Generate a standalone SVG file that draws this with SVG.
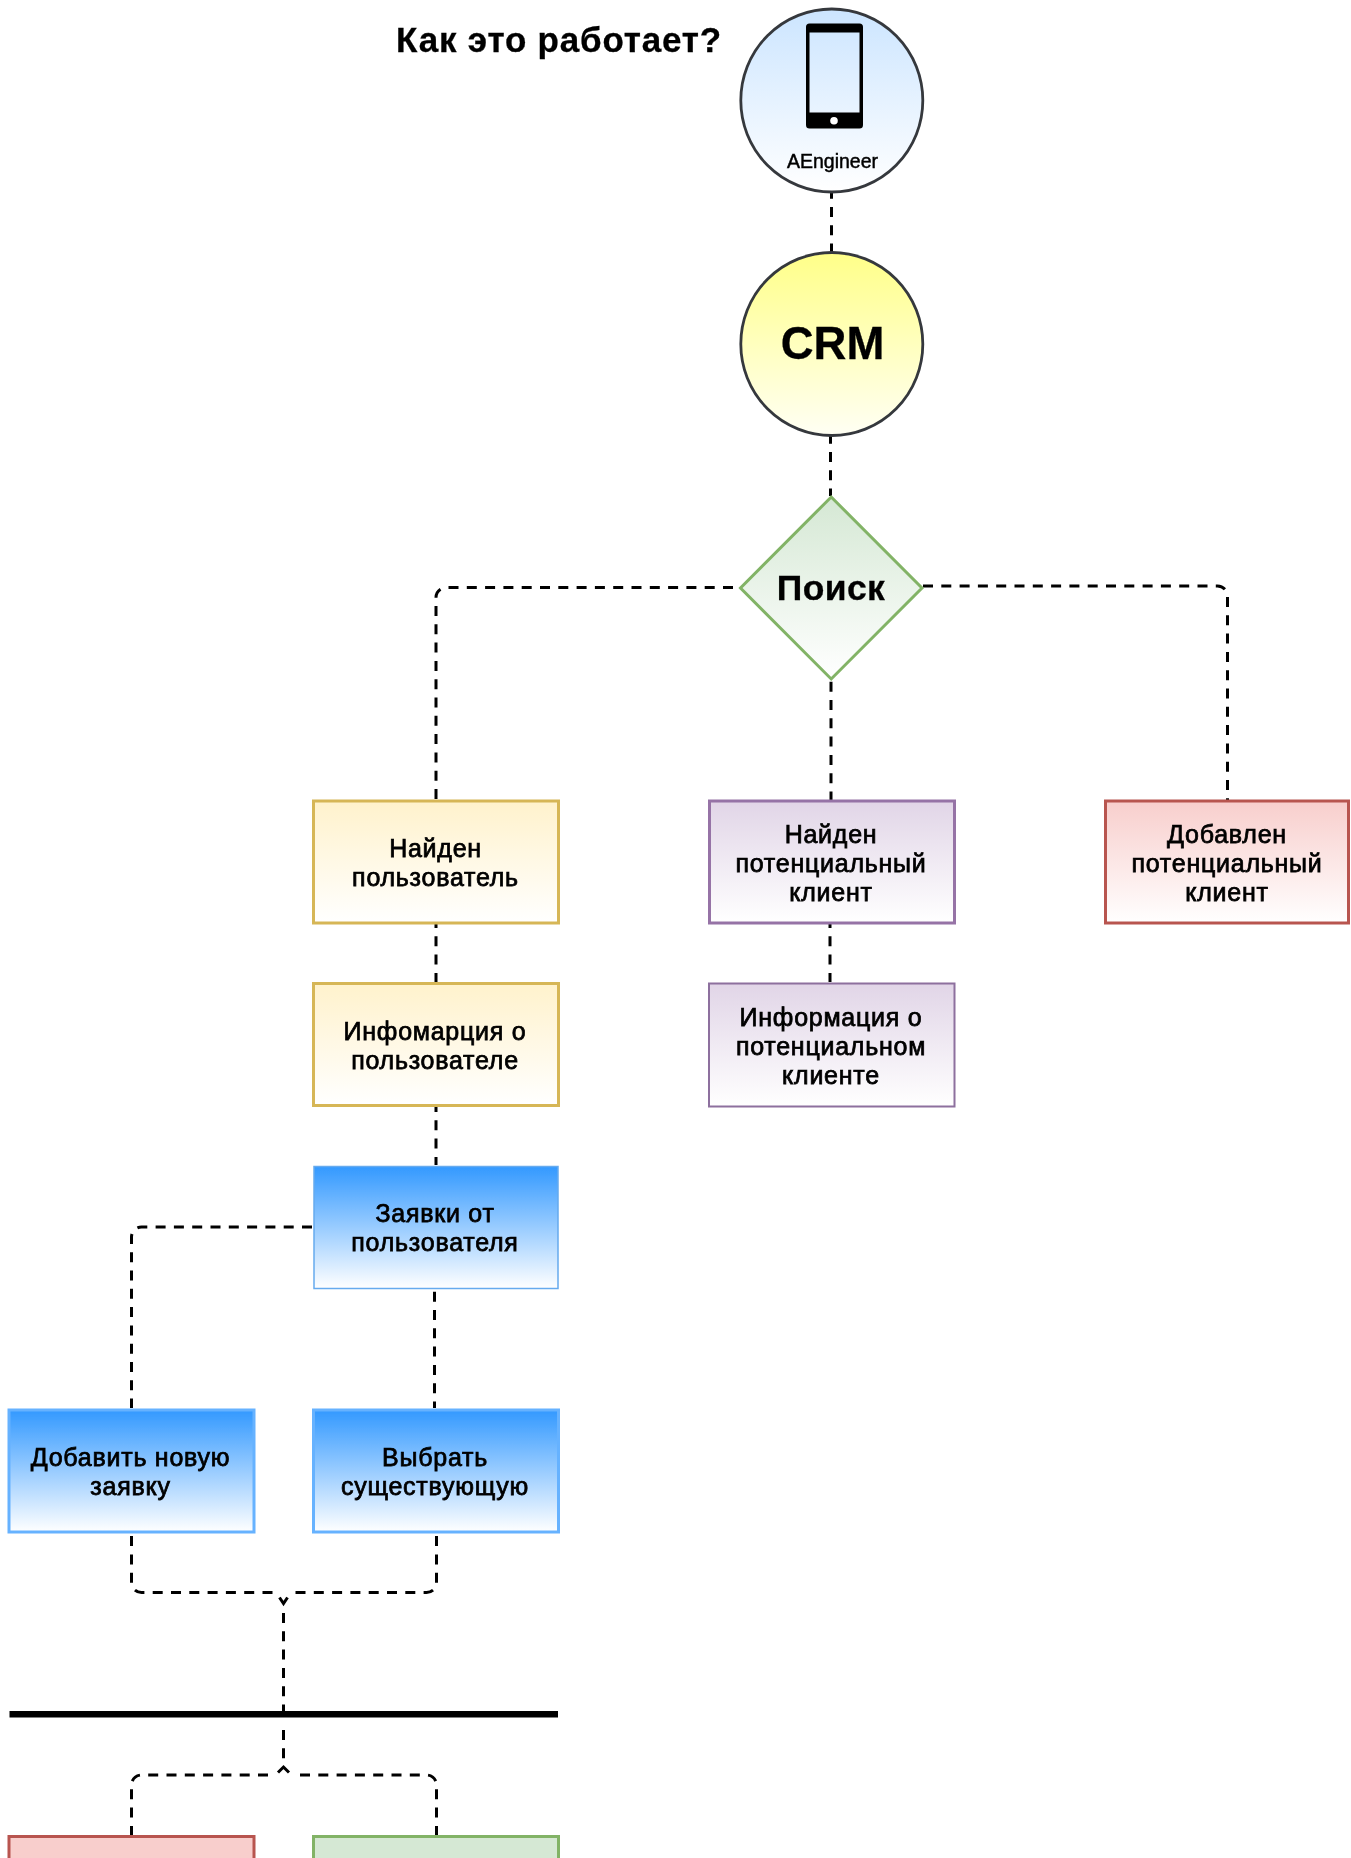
<svg xmlns="http://www.w3.org/2000/svg" width="1351" height="1858" viewBox="0 0 1351 1858">
<style>
text{font-family:"Liberation Sans",Arial,sans-serif;text-anchor:middle;fill:#000}
.t{font-size:25px;letter-spacing:.75px;stroke:#000;stroke-width:.75px}
.c{fill:none;stroke:#000;stroke-width:3;stroke-dasharray:10 8.3}
.a{fill:none;stroke:#000;stroke-width:3}
.n{stroke-width:3}
</style>
<defs>
<filter id="soft" filterUnits="userSpaceOnUse" x="0" y="0" width="1351" height="1858"><feGaussianBlur stdDeviation="0.55"/></filter>
<linearGradient id="gB" x1="0" y1="0" x2="0" y2="1"><stop offset="0" stop-color="#cce5ff"/><stop offset="1" stop-color="#fff"/></linearGradient>
<linearGradient id="gC" x1="0" y1="0" x2="0" y2="1"><stop offset="0" stop-color="#ffff88"/><stop offset="1" stop-color="#fffff4"/></linearGradient>
<linearGradient id="gD" x1="0" y1="0" x2="0" y2="1"><stop offset="0" stop-color="#d5e8d4"/><stop offset="1" stop-color="#fff"/></linearGradient>
<linearGradient id="gY" x1="0" y1="0" x2="0" y2="1"><stop offset="0" stop-color="#fff2cc"/><stop offset="1" stop-color="#fff"/></linearGradient>
<linearGradient id="gP" x1="0" y1="0" x2="0" y2="1"><stop offset="0" stop-color="#e1d5e7"/><stop offset="1" stop-color="#fff"/></linearGradient>
<linearGradient id="gR" x1="0" y1="0" x2="0" y2="1"><stop offset="0" stop-color="#f8cecc"/><stop offset="1" stop-color="#fff"/></linearGradient>
<linearGradient id="gS" x1="0" y1="0" x2="0" y2="1"><stop offset="0" stop-color="#3399ff"/><stop offset="1" stop-color="#fff"/></linearGradient>
</defs>
<rect width="1351" height="1858" fill="#fff"/>
<g id="diagram" filter="url(#soft)">
<g id="connectors">
<path class="c" stroke-dashoffset="3.300" d="M831.500 192V252"/>
<path class="c" stroke-dashoffset="2.300" d="M830.500 436V496"/>
<path class="c" stroke-dashoffset="11.300" d="M740 587.500H446a10 10 0 0 0-10 10V800"/>
<path class="c" d="M923 586H1217.500a10 10 0 0 1 10 10V800"/>
<path class="c" stroke-dashoffset="16.600" d="M831 680V800"/>
<path class="c" stroke-dashoffset="6" d="M436 924V982"/>
<path class="c" stroke-dashoffset="6" d="M830 924V982"/>
<path class="c" stroke-dashoffset="5" d="M436 1107V1165"/>
<path class="c" stroke-dashoffset="17.300" d="M313 1227H141.500a10 10 0 0 0-10 10V1408"/>
<path class="c" stroke-dashoffset="16.600" d="M434.500 1290V1408"/>
<path class="c" d="M272.500 1592.500H141.500a10 10 0 0 1-10-10V1534"/>
<path class="c" d="M295.500 1592.500H426.500a10 10 0 0 0 10-10V1534"/>
<path class="c" d="M283.500 1613V1714"/>
<path class="c" d="M283.500 1730V1761"/>
<path class="c" d="M268 1775H141.500a10 10 0 0 0-10 10V1835"/>
<path class="c" d="M300 1775H426.500a10 10 0 0 1 10 10V1835"/>
<path class="a" d="M279.500 1597.500l4 6 4-6"/>
<path class="a" d="M278 1772.500l5.500-5.500 5.500 5.500"/>
</g>
<g id="title"><text x="559" y="52" font-size="35" letter-spacing=".8" stroke="#000" stroke-width=".3" font-weight="bold">Как это работает?</text></g>
<g id="phone-node">
<ellipse cx="831.800" cy="100.500" rx="91" ry="91.500" fill="url(#gB)" stroke="#36393d" stroke-width="2.800"/>
<path fill-rule="evenodd" d="M809.500 23.500H859.500a3.500 3.500 0 0 1 3.500 3.500V125a3.500 3.500 0 0 1-3.500 3.500H809.500a3.500 3.500 0 0 1-3.500-3.500V27a3.500 3.500 0 0 1 3.500-3.500ZM809.500 32.500V112.500H859.500V32.500Z"/>
<circle cx="834" cy="120.700" r="3.800" fill="#fff"/>
<text x="832.500" y="168" font-size="19.500" stroke="#000" stroke-width=".45">AEngineer</text>
</g>
<g id="crm-node">
<ellipse cx="831.800" cy="344" rx="91" ry="91.500" fill="url(#gC)" stroke="#36393d" stroke-width="2.800"/>
<text x="832.500" y="359" font-size="45.500" stroke="#000" stroke-width=".3" font-weight="bold">CRM</text>
</g>
<g id="search-node">
<path d="M831.200 497L922 588 831.200 679 740.500 588Z" fill="url(#gD)" stroke="#82b366" class="n"/>
<text x="831" y="600" font-size="35.500" letter-spacing=".4" stroke="#000" stroke-width=".3" font-weight="bold">Поиск</text>
</g>
<g id="found-user"><rect x="313.500" y="801" width="245" height="122" fill="url(#gY)" stroke="#d6b656" class="n"/>
<text class="t" x="435.500" y="857">Найден</text><text class="t" x="435.500" y="886">пользователь</text></g>
<g id="found-lead"><rect x="709.500" y="801" width="245" height="122" fill="url(#gP)" stroke="#9673a6" class="n"/>
<text class="t" x="831" y="843">Найден</text><text class="t" x="831" y="872">потенциальный</text><text class="t" x="831" y="901">клиент</text></g>
<g id="added-lead"><rect x="1105.500" y="801" width="243" height="122" fill="url(#gR)" stroke="#b85450" class="n"/>
<text class="t" x="1227" y="843">Добавлен</text><text class="t" x="1227" y="872">потенциальный</text><text class="t" x="1227" y="901">клиент</text></g>
<g id="user-info"><rect x="313.500" y="983.500" width="245" height="122" fill="url(#gY)" stroke="#d6b656" class="n"/>
<text class="t" x="435" y="1040">Инфомарция о</text><text class="t" x="435" y="1069">пользователе</text></g>
<g id="lead-info"><rect x="709" y="983.500" width="245.500" height="123" fill="url(#gP)" stroke="#8d6f9e" stroke-width="2"/>
<text class="t" x="831" y="1026">Информация о</text><text class="t" x="831" y="1055">потенциальном</text><text class="t" x="831" y="1084">клиенте</text></g>
<g id="user-requests"><rect x="314" y="1166.500" width="244" height="122" fill="url(#gS)" stroke="#66aaee" stroke-width="1.500"/>
<text class="t" x="435" y="1222">Заявки от</text><text class="t" x="435" y="1251">пользователя</text></g>
<g id="add-request"><rect x="9" y="1410" width="245" height="122" fill="url(#gS)" stroke="#66b2ff" class="n"/>
<text class="t" x="130.500" y="1466">Добавить новую</text><text class="t" x="130.500" y="1495">заявку</text></g>
<g id="select-request"><rect x="313.500" y="1410" width="245" height="122" fill="url(#gS)" stroke="#66b2ff" class="n"/>
<text class="t" x="435" y="1466">Выбрать</text><text class="t" x="435" y="1495">существующую</text></g>
<g id="separator"><rect x="9.500" y="1711" width="548.500" height="6.500" fill="#000"/></g>
<g id="red-box"><rect x="9" y="1836.500" width="245" height="30" fill="#f8cecc" stroke="#b85450" class="n"/></g>
<g id="green-box"><rect x="313.500" y="1836.500" width="245" height="30" fill="#d5e8d4" stroke="#82b366" class="n"/></g>
</g>
</svg>
